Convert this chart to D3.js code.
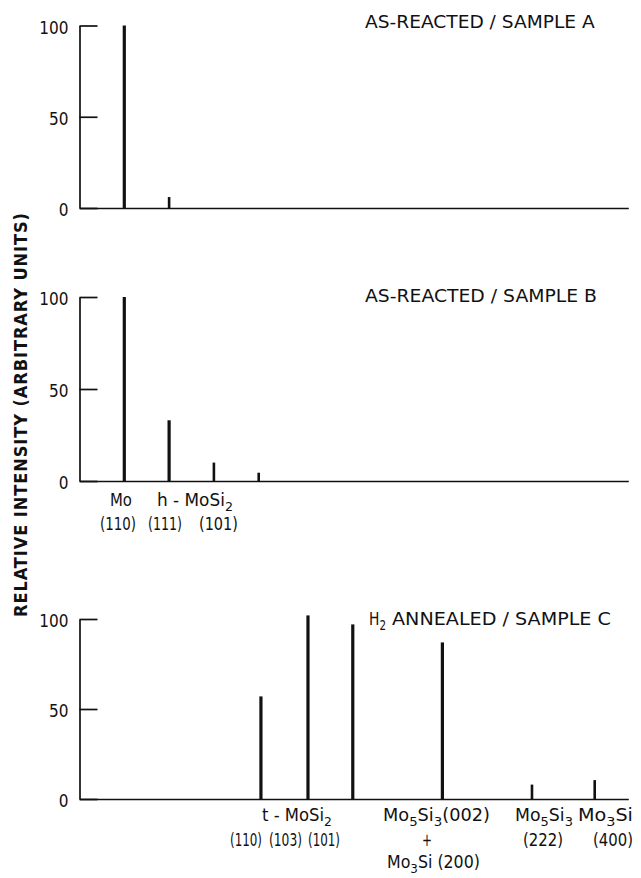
<!DOCTYPE html>
<html><head><meta charset="utf-8">
<script src="https://cdn.jsdelivr.net/npm/d3@7"></script>
<style>
body{margin:0;background:#fff;}
svg text{font-family:"DejaVu Sans Condensed","Liberation Sans Narrow",sans-serif;fill:#111;}
</style></head>
<body><svg id="c" width="641" height="878"></svg>
<script>
// Peak positions (arbitrary diffraction-angle units) and relative intensities
const posA = [1, 2];
const valA = [100, 6];
const posB = [1, 2, 3, 4];
const valB = [100, 33, 10, 4.5];
const posC = [4.05, 5.1, 6.1, 8.1, 10.1, 11.5];
const valC = [57, 102, 97, 87, 8, 10.5];
const yTicks = [0, 50, 100];
const titles = ["AS-REACTED / SAMPLE A", "AS-REACTED / SAMPLE B", "ANNEALED / SAMPLE C"];
const yLabel = "RELATIVE INTENSITY (ARBITRARY UNITS)";
// peak labels: [segments ([text, isSub]), xStart, width, baseline]
const labelsB = [
  [[["Mo",0]], 110, 22, 506],
  [[["h - MoSi",0],["2",1]], 157, 76, 506],
  [[["(110)",0]], 100, 36, 530],
  [[["(111)",0]], 148, 34, 530],
  [[["(101)",0]], 199, 39, 530]
];
const labelsC = [
  [[["t - MoSi",0],["2",1]], 262, 70, 821],
  [[["Mo",0],["5",1],["Si",0],["3",1],["(002)",0]], 383, 107, 821],
  [[["Mo",0],["5",1],["Si",0],["3",1]], 515, 58, 821],
  [[["Mo",0],["3",1],["Si",0]], 578, 55, 821],
  [[["(110)",0]], 230, 32, 846],
  [[["(103)",0]], 269, 33, 846],
  [[["(101)",0]], 308, 32, 846],
  [[["+",0]], 422, 10, 846],
  [[["(222)",0]], 523, 40, 846],
  [[["(400)",0]], 593, 40, 846],
  [[["Mo",0],["3",1],["Si (200)",0]], 387, 93, 868]
];

const svg = d3.select("#c");
const x = d3.scaleLinear().domain([0, 12.25]).range([79.5, 628.3]);

const panels = [
  {pos: posA, val: valA, y0: 208, y1: 25.5},
  {pos: posB, val: valB, y0: 481, y1: 297},
  {pos: posC, val: valC, y0: 799, y1: 619}
];

panels.forEach(p => {
  const y = d3.scaleLinear().domain([0, 100]).range([p.y0, p.y1]);
  const g = svg.append("g");
  const ya = g.append("g").attr("transform", `translate(${x(0)},0)`)
    .call(d3.axisLeft(y).tickValues(yTicks).tickSizeInner(-18).tickSizeOuter(0).tickPadding(11).tickFormat(d3.format("d")));
  ya.selectAll("path,line").attr("stroke", "#111").attr("stroke-width", 1.7);
  ya.selectAll("text").attr("font-size", 17).attr("dy", "0.45em").attr("fill", "#111")
    .style("font-family", "'DejaVu Sans Condensed',sans-serif");
  const xa = g.append("g").attr("transform", `translate(0,${p.y0})`)
    .call(d3.axisBottom(x).tickValues([]).tickSizeOuter(0));
  xa.select("path").attr("stroke", "#111").attr("stroke-width", 1.7);
  g.selectAll("line.peak").data(p.pos.map((d, k) => [d, p.val[k]])).enter().append("line")
    .attr("class", "peak")
    .attr("x1", d => x(d[0])).attr("x2", d => x(d[0]))
    .attr("y1", y(0)).attr("y2", d => y(d[1]))
    .attr("stroke", "#111").attr("stroke-width", d => d[1] > 20 ? 3.2 : 2.6);
});

// fit a text horizontally into [x0, x0+w] at baseline yb
function fitText(segs, x0, w, yb, fs) {
  const t = svg.append("text").attr("font-size", fs);
  let sub = 0;
  segs.forEach(([s, isSub]) => {
    const sp = t.append("tspan").text(s);
    if (isSub && !sub) sp.attr("dy", fs * 0.28).attr("font-size", fs * 0.75);
    else if (!isSub && sub) sp.attr("dy", -fs * 0.28);
    else if (isSub) sp.attr("font-size", fs * 0.75);
    sub = isSub;
  });
  const bw = t.node().getBBox().width;
  t.attr("transform", `translate(${x0},${yb}) scale(${w / bw},1)`);
  return t;
}

// panel titles
fitText([[titles[0], 0]], 365, 230, 27.5, 18);
fitText([[titles[1], 0]], 365, 232, 302, 18);
fitText([["H", 0], ["2", 1]], 369, 17, 625, 18);
fitText([[titles[2], 0]], 392, 219, 625, 18);

// y label
svg.append("text").attr("transform", "translate(27,415) rotate(-90)")
  .attr("text-anchor", "middle").attr("font-size", 18).attr("font-weight", "bold")
  .attr("textLength", 404).attr("lengthAdjust", "spacing").text(yLabel);

labelsB.concat(labelsC).forEach(l => fitText(l[0], l[1], l[2], l[3], 17));
</script></body></html>
